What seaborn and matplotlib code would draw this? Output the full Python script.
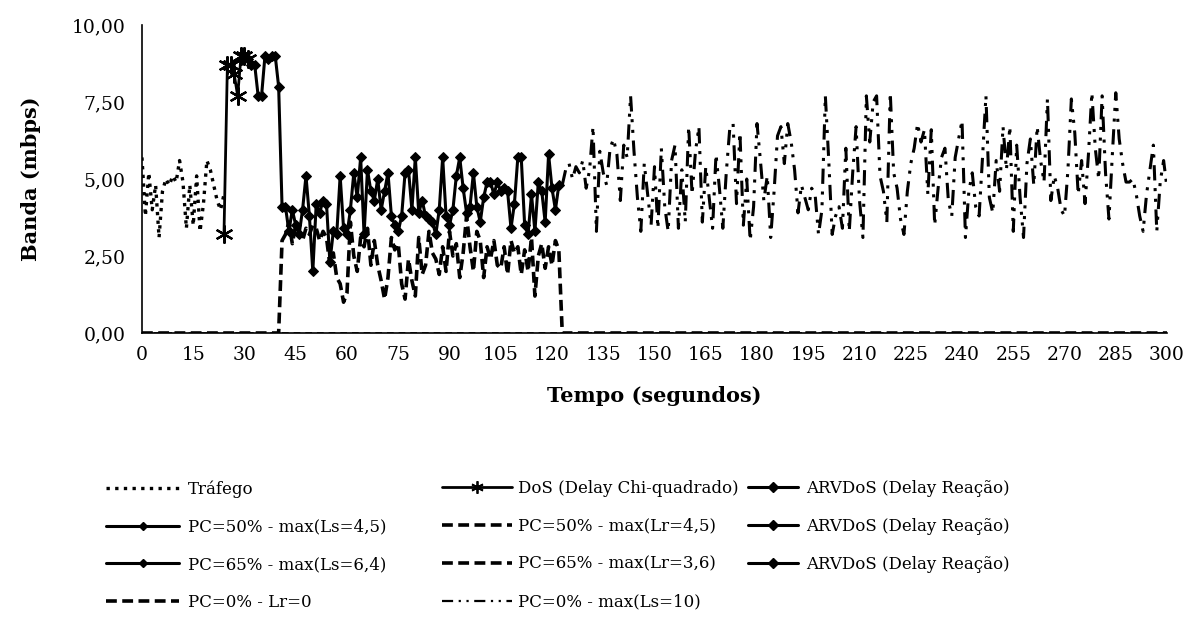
import numpy as np
import pandas as pd
import matplotlib
matplotlib.use("Agg")
import matplotlib.pyplot as plt
import seaborn as sns
from matplotlib.lines import Line2D

# ---------------- data ----------------
t_trafego = 0
trafego = [5.7, 3.8, 5.2, 4.0, 4.8, 3.1, 4.6, 5.0, 4.8, 5.1,
           4.9, 5.6, 4.9, 3.4, 4.8, 3.5, 5.1, 3.3, 4.2, 5.6,
           5.3, 4.8, 4.3, 4.0, 4.5]

t_dos = 24
dos = [3.2, 8.7, 8.7, 8.4, 7.7, 9.0, 9.0, 8.9]

t_arvdos = 31
arvdos = [8.9, 8.7, 8.7, 7.7, 7.7, 9.0, 8.9, 9.0, 9.0, 8.0,
          4.1, 4.1, 3.3, 4.0, 3.5, 3.2, 4.0, 5.1, 3.8, 2.0,
          4.2, 3.9, 4.3, 4.2, 2.3, 3.3, 3.2, 5.1, 3.4, 3.2,
          4.0, 5.2, 4.4, 5.7, 3.2, 5.3, 4.6, 4.3, 5.0, 4.0,
          4.6, 5.2, 3.8, 3.5, 3.3, 3.8, 5.2, 5.3, 4.0, 5.7,
          3.9, 4.3, 3.8, 3.7, 3.6, 3.2, 4.0, 5.7, 3.8, 3.5,
          4.0, 5.1, 5.7, 4.7, 3.9, 4.1, 5.2, 4.1, 3.6, 4.4,
          4.9, 4.9, 4.5, 4.9, 4.6, 4.7, 4.6, 3.4, 4.2, 5.7,
          5.7, 3.5, 3.2, 4.5, 3.3, 4.9, 4.6, 3.6, 5.8, 4.7,
          4.0, 4.8]

t_pc50_lr = 41
pc50_lr = [3.0, 3.2, 3.6, 2.9, 3.5, 3.3, 3.0, 3.4, 3.2, 3.5,
           3.4, 3.0, 3.3, 3.1, 2.2, 2.6, 1.8, 1.6, 1.0, 1.3,
           3.6, 2.5, 2.0, 3.1, 2.8, 3.4, 2.2, 3.0, 2.2, 1.7,
           1.1, 1.8, 3.1, 2.7, 2.9, 1.6, 1.1, 2.4, 1.7, 1.2,
           3.1, 1.9, 2.2, 3.3, 2.6, 2.4, 1.9, 2.8, 2.0, 3.3,
           2.5, 2.9, 1.8, 2.6, 3.8, 2.8, 2.0, 3.3, 3.0, 1.8,
           2.8, 2.4, 3.0, 2.2, 2.1, 2.8, 1.9, 3.0, 2.6, 2.8,
           1.9, 2.7, 2.0, 3.1, 1.2, 2.5, 2.9, 2.1, 2.8, 2.2,
           3.0, 2.7]
pc50_lr_zero_t = [0, 40]
pc50_lr_end_t = [123, 300]

t_pc0_ls10 = 123
pc0_ls10 = [4.8, 5.3, 5.5, 5.0, 5.4, 5.2, 5.6, 4.7, 5.3, 6.7,
            3.3, 5.9, 5.2, 4.8, 6.0, 6.3, 5.8, 4.3, 6.1, 5.7,
            7.7, 5.9, 4.4, 3.3, 5.5, 4.5, 3.5, 5.4, 3.4, 6.0,
            4.1, 3.3, 5.6, 6.1, 3.4, 5.3, 3.6, 6.7, 4.5, 5.9,
            6.7, 3.6, 5.4, 4.4, 3.4, 5.8, 4.7, 3.4, 5.2, 6.6,
            6.8, 4.2, 6.5, 3.5, 5.0, 3.0, 4.1, 6.8, 5.6, 4.3,
            5.1, 3.1, 4.6, 6.4, 6.7, 5.5, 6.8, 6.2, 5.3, 3.9,
            4.8, 4.4, 4.0, 4.7, 4.5, 3.2, 4.0, 7.7, 5.6, 3.2,
            3.8, 4.1, 3.4, 6.0, 3.3, 5.2, 6.7, 4.3, 3.1, 7.7,
            6.2, 7.5, 7.7, 5.1, 4.6, 3.6, 7.8, 5.2, 4.7, 3.7,
            3.2, 4.6, 5.5, 6.0, 6.8, 6.2, 6.6, 4.5, 6.6, 3.5,
            4.7, 5.7, 6.0, 4.3, 3.8, 5.7, 6.3, 6.9, 3.1, 4.6,
            5.2, 4.1, 3.8, 5.7, 7.7, 4.4, 3.9, 5.6, 4.6, 6.7,
            5.3, 6.7, 3.3, 6.1, 4.4, 3.1, 5.5, 6.3, 4.8, 6.7,
            5.6, 4.9, 7.6, 4.3, 5.1, 4.7, 4.0, 3.8, 5.3, 7.6,
            6.5, 4.5, 5.6, 4.2, 5.8, 7.8, 6.0, 5.0, 7.7, 5.2,
            3.7, 5.8, 7.8, 6.3, 5.5, 4.9, 4.9, 5.0, 4.5, 3.8,
            3.3, 4.5, 5.3, 6.1, 3.3, 4.9, 5.6, 4.7]

pc0_lr0_t = [0, 300]
pc0_lr0 = [0.0, 0.0]

x_ticks = [0, 15, 30, 45, 60, 75, 90, 105, 120, 135, 150, 165, 180, 195,
           210, 225, 240, 255, 270, 285, 300]
y_ticks = [0, 2.5, 5, 7.5, 10]
y_ticklabels = ["0,00", "2,50", "5,00", "7,50", "10,00"]

x_label = "Tempo (segundos)"
y_label = "Banda (mbps)"

col1_labels = ["Tráfego", "PC=50% - max(Ls=4,5)", "PC=65% - max(Ls=6,4)", "PC=0% - Lr=0"]
col2_labels = ["DoS (Delay Chi-quadrado)", "PC=50% - max(Lr=4,5)", "PC=65% - max(Lr=3,6)",
               "PC=0% - max(Ls=10)"]
col3_labels = ["ARVDoS (Delay Reação)", "ARVDoS (Delay Reação)", "ARVDoS (Delay Reação)"]

# ---------------- style ----------------
sns.set_style("white")
plt.rcParams["font.family"] = ["DejaVu Serif"]
plt.rcParams["font.size"] = 13
plt.rcParams["text.color"] = "black"
plt.rcParams["axes.labelcolor"] = "black"
plt.rcParams["xtick.color"] = "black"
plt.rcParams["ytick.color"] = "black"

fig = plt.figure(figsize=(11.9, 6.25), dpi=100)
ax = fig.add_axes([0.1193, 0.4672, 0.8614, 0.4928])

K = "black"
DOT = (0, (1, 1.6))
DASH = (0, (3, 1.5))
DASHDOT = (0, (5, 2.5, 1, 2.5, 1, 2.5))


def tr(start, vals):
    return np.arange(start, start + len(vals))


# traffic (dotted)
sns.lineplot(x=tr(t_trafego, trafego), y=trafego, ax=ax, color=K, lw=2.4,
             linestyle=DOT, estimator=None, sort=False)
# PC=0% - max(Ls=10) (dash-dot)
sns.lineplot(x=tr(t_pc0_ls10, pc0_ls10), y=pc0_ls10, ax=ax, color=K, lw=2.2,
             linestyle=DASHDOT, estimator=None, sort=False)

# PC=0% - Lr=0 along the axis
sns.lineplot(x=pc0_lr0_t, y=pc0_lr0, ax=ax, color=K, lw=1.2, linestyle=(0, (4, 3)),
             estimator=None, sort=False)

# PC=50% - max(Lr) (dashed)
lr_x = list(pc50_lr_zero_t) + list(tr(t_pc50_lr, pc50_lr)) + list(pc50_lr_end_t)
lr_y = [0.0, 0.0] + list(pc50_lr) + [0.0, 0.0]
sns.lineplot(x=lr_x, y=lr_y, ax=ax, color=K, lw=2.6, linestyle=DASH,
             estimator=None, sort=False)

# ARVDoS (solid with diamonds)
sns.lineplot(x=tr(t_arvdos, arvdos), y=arvdos, ax=ax, color=K, lw=2.2,
             marker="D", markersize=5, markeredgecolor=K, estimator=None, sort=False)

# DoS (solid with asterisks)
sns.lineplot(x=tr(t_dos, dos), y=dos, ax=ax, color=K, lw=2.0,
             marker=(6, 2, 0), markersize=13, markeredgewidth=1.6, markeredgecolor=K,
             estimator=None, sort=False)

# ---------------- axes ----------------
ax.set_xlim(0, 300)
ax.set_ylim(0, 10)
ax.set_xticks(x_ticks)
ax.set_xticklabels([str(v) for v in x_ticks])
ax.set_yticks(y_ticks)
ax.set_yticklabels(y_ticklabels)
for s in ["top", "right"]:
    ax.spines[s].set_visible(False)
for s in ["left", "bottom"]:
    ax.spines[s].set_color(K)
    ax.spines[s].set_linewidth(1.2)
ax.tick_params(axis="x", direction="inout", length=12, width=1.2, colors=K, pad=3,
               labelsize=13.5)
ax.tick_params(axis="y", direction="out", length=6, width=1.2, colors=K, pad=6,
               labelsize=13.5)
ax.set_xlabel(x_label, fontsize=15, fontweight="bold", labelpad=16, color=K)
ax.set_ylabel(y_label, fontsize=15, fontweight="bold", labelpad=22, color=K)
ax.grid(False)

# ---------------- legend ----------------
h_dot = Line2D([], [], color=K, lw=2.4, linestyle=DOT)
h_solid = Line2D([], [], color=K, lw=2.2, marker="D", markersize=4)
h_dash = Line2D([], [], color=K, lw=2.6, linestyle=DASH)
h_dos = Line2D([], [], color=K, lw=2.0, marker=(6, 2, 0), markersize=9, markeredgewidth=1.3)
h_dashdot = Line2D([], [], color=K, lw=1.6, linestyle=DASHDOT)
h_arv = Line2D([], [], color=K, lw=2.2, marker="D", markersize=5)

common = dict(frameon=False, loc="upper left", bbox_transform=fig.transFigure,
              borderpad=0, borderaxespad=0, labelspacing=1.25, numpoints=1,
              fontsize=12, handleheight=0.7, labelcolor=K)
top = 1 - 480 / 625
fig.legend([h_dot, h_solid, h_solid, h_dash], col1_labels,
           bbox_to_anchor=(106 / 1190, top), handlelength=4.4,
           handletextpad=0.5, **common)
fig.legend([h_dos, h_dash, h_dash, h_dashdot], col2_labels,
           bbox_to_anchor=(442 / 1190, top), handlelength=4.2,
           handletextpad=0.35, **common)
fig.legend([h_arv, h_arv, h_arv], col3_labels,
           bbox_to_anchor=(748 / 1190, top), handlelength=3.0,
           handletextpad=0.5, **common)

fig.savefig("out.png", dpi=100, facecolor="white")
